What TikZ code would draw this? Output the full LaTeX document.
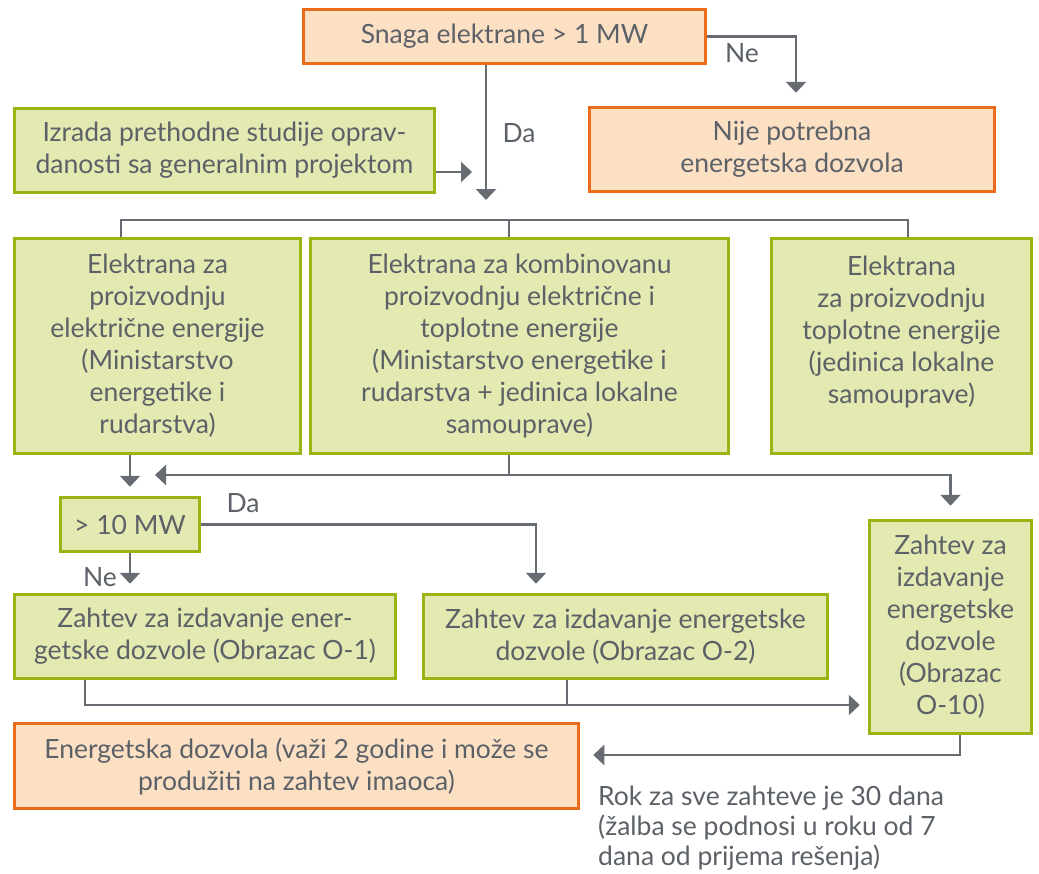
\documentclass[tikz,border=0pt]{standalone}
\usepackage{fontspec}
\setmainfont{Lato}
\usepackage{tikz}
\usetikzlibrary{arrows.meta,calc,positioning}
\definecolor{dozorange}{HTML}{E96D1A}
\definecolor{dozpeach}{HTML}{FCE0C4}
\definecolor{dozgreen}{HTML}{9BB414}
\definecolor{dozlime}{HTML}{E3E9B1}
\definecolor{dozgray}{HTML}{676C72}
\definecolor{doztext}{HTML}{5C6167}

\begin{document}
\begin{tikzpicture}[x=1pt, y=-1pt, every node/.style={font=\fontsize{26.5}{32}\selectfont,
    text=doztext, align=center, inner sep=0pt},
    obox/.style={draw=dozorange, fill=dozpeach, line width=3.5pt},
    gbox/.style={draw=dozgreen, fill=dozlime, line width=3.5pt},
    conn/.style={draw=dozgray, line width=2.5pt},
    arr/.style={conn, -{Triangle[length=11pt,width=20pt]}},
    lbl/.style={font=\fontsize{26.5}{28}\selectfont}]
\useasboundingbox (0,0) rectangle (1039,873);
% top part
\node[obox, minimum width=402pt, minimum height=54pt] (snaga) at (504.5,36.5) {Snaga elektrane > 1 MW};
\node[obox, minimum width=405pt, minimum height=84pt] (nije) at (792,149.5) {Nije potrebna\\energetska dozvola};
\node[gbox, minimum width=420pt, minimum height=84pt] (izrada) at (224.5,150.5) {Izrada prethodne studije oprav-\\danosti sa generalnim projektom};
% three kinds of plants
\node[gbox, minimum width=286pt, minimum height=215pt] (el1) at (157.5,346) {Elektrana za\\proizvodnju\\električne energije\\(Ministarstvo\\energetike i\\rudarstva)};
\node[gbox, minimum width=418pt, minimum height=215pt] (el2) at (519.5,346) {Elektrana za kombinovanu\\proizvodnju električne i\\toplotne energije\\(Ministarstvo energetike i\\rudarstva + jedinica lokalne\\samouprave)};
\node[gbox, minimum width=260pt, minimum height=215pt] (el3) at (901.5,346) {Elektrana\\za proizvodnju\\toplotne energije\\(jedinica lokalne\\samouprave)\\\mbox{}};
% requests
\node[gbox, minimum width=139pt, minimum height=54pt] (mw) at (130,524.5) {> 10 MW};
\node[gbox, minimum width=381pt, minimum height=84pt] (o1) at (205,636.5) {Zahtev za izdavanje ener-\\getske dozvole (Obrazac O-1)};
\node[gbox, minimum width=404pt, minimum height=84pt] (o2) at (625.5,636.5) {Zahtev za izdavanje energetske\\dozvole (Obrazac O-2)};
\node[gbox, minimum width=162pt, minimum height=213pt] (o10) at (950.5,627) {Zahtev za\\izdavanje\\energetske\\dozvole\\(Obrazac\\O-10)};
\node[obox, minimum width=564pt, minimum height=85pt] (dozvola) at (296.5,766) {Energetska dozvola (važi 2 godine i može se\\produžiti na zahtev imaoca)};
\node[anchor=west, align=left, font=\fontsize{26.5}{30}\selectfont] (rok) at (598,828) {Rok za sve zahteve je 30 dana\\(žalba se podnosi u roku od 7\\dana od prijema rešenja)};

% connectors
\coordinate (neturn) at (796,36.5);
\coordinate (daend) at (486,200);
\coordinate (izend) at (472,172);
\coordinate (bus1) at (121,220);
\coordinate (bus2) at (509,220);
\coordinate (bus3) at (908,220);
\coordinate (mid) at (509,475);
\coordinate (midl) at (155,475);
\coordinate (daturn) at (536,524.5);
\coordinate (bot1) at (85,705);
\coordinate (bot2) at (567,705);
\coordinate (endturn) at (960,755);

\draw[arr, shorten >=13pt] (snaga.east) -- (neturn) -- (neturn |- nije.north);
\node[lbl] (ne1) at (742,53) {Ne};
\draw[arr] (snaga.south -| daend) -- (daend);
\node[lbl] (da1) at (519,133) {Da};
\draw[arr] (izrada.east |- izend) -- (izend);

\draw[conn] (el1.north -| bus1) -- (bus1) -- (bus3) -- (el3.north -| bus3);
\draw[conn] (el2.north -| bus2) -- (bus2);

\draw[arr, shorten >=9pt] (el1.south -| mw.north) -- (mw.north);
\draw[conn] (el2.south -| mid) -- (mid);
\draw[arr] (mid) -- (midl);
\draw[arr, shorten >=13pt] (mid) -| (o10.north);

\draw[arr, shorten >=9pt] (mw.east) -- (daturn) -- (daturn |- o2.north);
\node[lbl] (da2) at (243,503) {Da};
\draw[arr, shorten >=9pt] (mw.south) -- (o1.north -| mw.south);
\node[lbl] (ne2) at (100,577) {Ne};

\draw[arr, shorten >=8pt] (o1.south -| bot1) -- (bot1) -- (o10.west |- bot1);
\draw[conn] (o2.south -| bot2) -- (bot2);
\draw[arr, shorten >=13pt] (o10.south -| endturn) -- (endturn) -- (dozvola.east |- endturn);
\end{tikzpicture}
\end{document}
